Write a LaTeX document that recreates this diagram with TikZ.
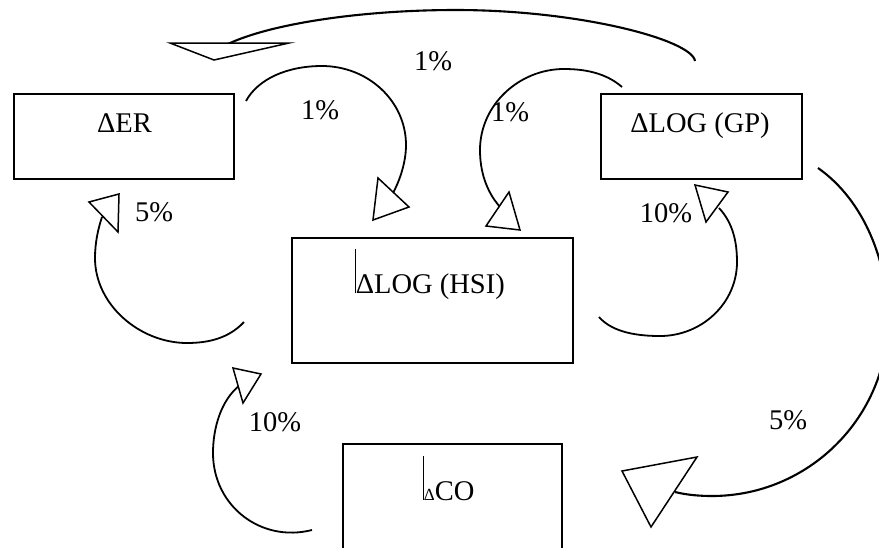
\documentclass[tikz,border=0pt]{standalone}
\usepackage{fontspec}
\setmainfont{Liberation Serif}
\begin{document}
\begin{tikzpicture}[x=1pt,y=-1pt,
  box/.style={draw, line width=1.5pt, inner sep=0pt, outer sep=0pt},
  lbl/.style={inner sep=0pt, font=\fontsize{28.5}{31}\selectfont},
  conn/.style={line width=1.8pt},
  tipbox/.style={draw, fill=white, line width=1.5pt, line join=miter}]
\useasboundingbox (0,0) rectangle (879,547);
\clip (0,0) rectangle (879,547);

% boxes
\node[box, minimum width=220pt, minimum height=85pt] (er) at (124,136.5) {};
\node[box, minimum width=201pt, minimum height=85pt] (gp) at (701.5,136.5) {};
\node[box, minimum width=281pt, minimum height=125pt] (hsi) at (432.5,300.5) {};
\node[box, minimum width=219pt, minimum height=120pt] (co) at (452.5,504) {};

% box texts
\node[lbl, anchor=base] (ert) at (124.5,132) {ΔER};
\node[lbl, anchor=base] (gpt) at (700,132) {ΔLOG (GP)};
\node[lbl, anchor=base west] (hsit) at (354.5,293) {\rule{1.2pt}{44pt}ΔLOG (HSI)};
\node[lbl, anchor=base west] (cot) at (422.5,500) {\rule{1.2pt}{44pt}{\fontsize{17}{20}\selectfont Δ}CO};

% connector end points
\coordinate (a1s) at (246,101); \coordinate (a1e) at (393,193);
\coordinate (a2s) at (622,87);  \coordinate (a2e) at (500,207);
\coordinate (a3s) at (695,61);  \coordinate (a3e) at (228,44);
\coordinate (a4s) at (244,322); \coordinate (a4e) at (102,217);
\coordinate (a5s) at (599,317); \coordinate (a5e) at (719,208);
\coordinate (a6s) at (818,168); \coordinate (a6e) at (675,492);
\coordinate (a7s) at (312,530); \coordinate (a7e) at (240,385);

% connectors
\draw[conn] (a1s) .. controls (258,79) and (287,66) .. (322,66)
  .. controls (368,66) and (406,101) .. (406,145)
  .. controls (406,162) and (400,180) .. (a1e);
\draw[conn] (a2s) .. controls (606,73) and (585,69) .. (564,69)
  .. controls (519,69) and (480,105) .. (480,150)
  .. controls (480,171) and (486,191) .. (a2e);
\draw[conn, line width=2.1pt] (a3s) .. controls (692,40) and (580,10) .. (456,10)
  .. controls (360,10) and (270,24) .. (a3e);
\draw[conn] (a4s) .. controls (229,338) and (209,343) .. (187,343)
  .. controls (140,343) and (95,305) .. (95,258)
  .. controls (95,243) and (98,229) .. (a4e);
\draw[conn] (a5s) .. controls (613,333) and (639,336) .. (660,336)
  .. controls (702,336) and (737,303) .. (737,262)
  .. controls (737,242) and (733,223) .. (a5e);
\draw[conn, line width=2.1pt] (a6s) .. controls (865,201) and (888,263) .. (888,320)
  .. controls (888,417) and (809,496) .. (712,496)
  .. controls (700,496) and (687,495) .. (a6e);
\draw[conn] (a7s) .. controls (261,543) and (213,506) .. (213,453)
  .. controls (213,428) and (221,400) .. (a7e);

% arrowheads
\draw[tipbox] (378,178) -- (409,207) -- (373,220) -- cycle;
\draw[tipbox] (509,192) -- (486,226) -- (520,230) -- cycle;
\draw[tipbox] (170,43) -- (289,43) -- (214,60) -- cycle;
\draw[tipbox] (89,202) -- (119,194) -- (118,232) -- cycle;
\draw[tipbox] (695,185) -- (728,192) -- (706,222) -- cycle;
\draw[tipbox] (622,471) -- (697,457) -- (651,527) -- cycle;
\draw[tipbox] (233,368) -- (261,374) -- (243,403) -- cycle;

% percentages
\node[lbl] (p1) at (433,61) {1\%};
\node[lbl] (p2) at (320,110) {1\%};
\node[lbl] (p3) at (510,112) {1\%};
\node[lbl] (p4) at (154,212) {5\%};
\node[lbl] (p5) at (666,213) {10\%};
\node[lbl] (p6) at (788,420) {5\%};
\node[lbl] (p7) at (275,422) {10\%};
\end{tikzpicture}
\end{document}
